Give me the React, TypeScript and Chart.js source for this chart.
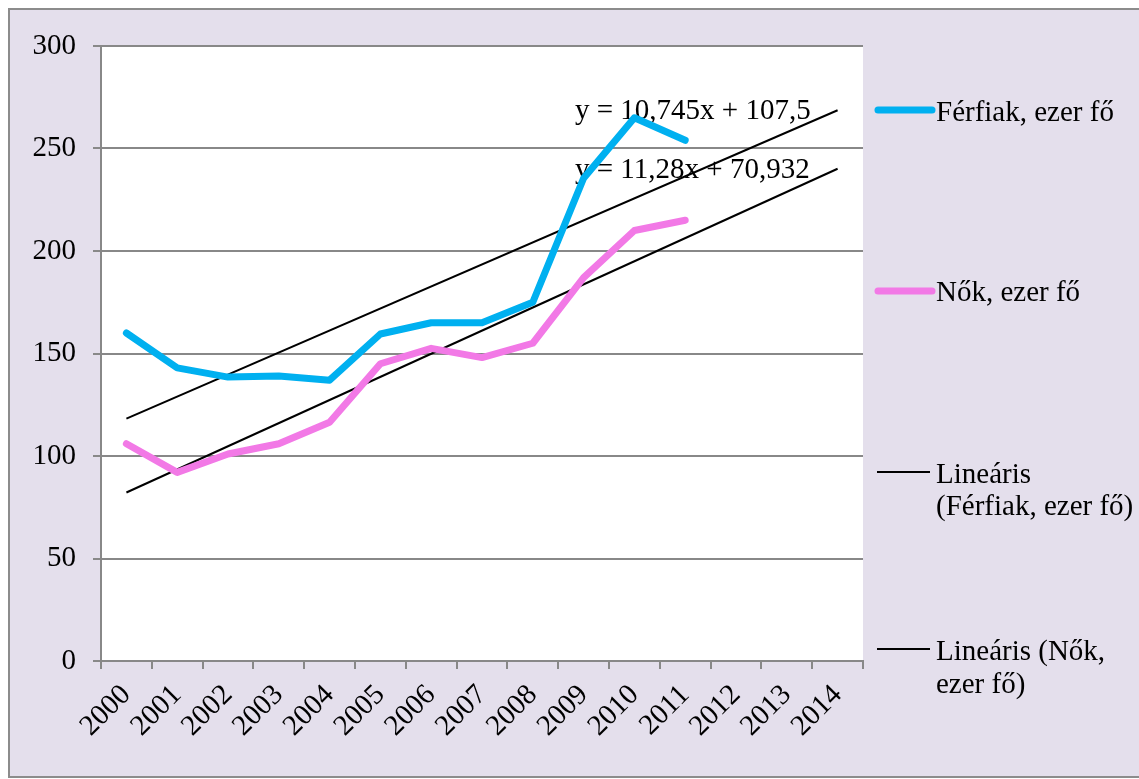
import React, { useEffect, useRef } from "react";
import { Chart, registerables } from "chart.js";

Chart.register(...registerables);

const years = ["2000", "2001", "2002", "2003", "2004", "2005", "2006", "2007", "2008", "2009", "2010", "2011", "2012", "2013", "2014"];
const men = [160, 143, 138.5, 139, 137, 159.5, 165, 165, 175, 235.5, 265, 254];
const women = [106, 92, 101, 106, 116.5, 145, 152.5, 148, 155, 187, 210, 215];
const menTrendYears = ["2000", "2014"];
const menTrendValues = [118.245, 268.675];
const womenTrendYears = ["2000", "2014"];
const womenTrendValues = [82.212, 240.132];
const menLabel = "Férfiak, ezer fő";
const womenLabel = "Nők, ezer fő";
const menTrendLabel = ["Lineáris", "(Férfiak, ezer fő)"];
const womenTrendLabel = ["Lineáris (Nők,", "ezer fő)"];
const menEquation = "y = 10,745x + 107,5";
const womenEquation = "y = 11,28x + 70,932";

const FAMILY = "'Liberation Serif', 'Times New Roman', serif";
const FONT = "29px " + FAMILY;
const BLUE = "#00B0F0";
const PINK = "#F279E6";
const GRID = "#888888";

const overlay = {
  id: "overlay",
  beforeDatasetsDraw(chart: any) {
    const ctx = chart.ctx;
    const a = chart.chartArea;
    ctx.save();
    ctx.font = FONT;
    ctx.fillStyle = "#000";
    ctx.textAlign = "left";
    ctx.textBaseline = "alphabetic";
    ctx.fillText(menEquation, a.left + 474, a.top + 73);
    ctx.fillText(womenEquation, a.left + 474, a.top + 132);
    ctx.restore();
  },
  afterDraw(chart: any) {
    const ctx = chart.ctx;
    const a = chart.chartArea;
    const lx = a.right + 12;
    const tx = a.right + 73;
    ctx.save();
    ctx.font = FONT;
    ctx.fillStyle = "#000";
    ctx.textAlign = "left";
    ctx.textBaseline = "alphabetic";
    ctx.lineCap = "round";
    ctx.lineWidth = 7;
    ctx.strokeStyle = BLUE;
    ctx.beginPath();
    ctx.moveTo(lx + 3, a.top + 64);
    ctx.lineTo(lx + 57, a.top + 64);
    ctx.stroke();
    ctx.fillText(menLabel, tx, a.top + 75);
    ctx.strokeStyle = PINK;
    ctx.beginPath();
    ctx.moveTo(lx + 3, a.top + 245);
    ctx.lineTo(lx + 57, a.top + 245);
    ctx.stroke();
    ctx.fillText(womenLabel, tx, a.top + 255);
    ctx.lineCap = "butt";
    ctx.lineWidth = 2;
    ctx.strokeStyle = "#000";
    ctx.beginPath();
    ctx.moveTo(lx + 2, a.top + 426);
    ctx.lineTo(lx + 55, a.top + 426);
    ctx.stroke();
    ctx.fillText(menTrendLabel[0], tx, a.top + 437);
    ctx.fillText(menTrendLabel[1], tx, a.top + 469);
    ctx.beginPath();
    ctx.moveTo(lx + 2, a.top + 603);
    ctx.lineTo(lx + 55, a.top + 603);
    ctx.stroke();
    ctx.fillText(womenTrendLabel[0], tx, a.top + 614);
    ctx.fillText(womenTrendLabel[1], tx, a.top + 647);
    ctx.restore();
  },
};

const plotBg = {
  id: "plotBg",
  beforeDraw(chart: any) {
    const ctx = chart.ctx;
    const a = chart.chartArea;
    ctx.save();
    ctx.fillStyle = "#FFFFFF";
    ctx.fillRect(a.left, a.top, a.right - a.left, a.bottom - a.top);
    ctx.restore();
  },
};

export default function App() {
  const ref = useRef<HTMLCanvasElement>(null);
  useEffect(() => {
    if (!ref.current) return;
    const chart = new Chart(ref.current, {
      type: "line",
      data: {
        labels: years,
        datasets: [
          {
            label: menLabel,
            data: men,
            borderColor: BLUE,
            backgroundColor: BLUE,
            borderWidth: 7,
            pointRadius: 0,
            borderCapStyle: "round",
            borderJoinStyle: "round",
            tension: 0,
          },
          {
            label: womenLabel,
            data: women,
            borderColor: PINK,
            backgroundColor: PINK,
            borderWidth: 7,
            pointRadius: 0,
            borderCapStyle: "round",
            borderJoinStyle: "round",
            tension: 0,
          },
          {
            label: menTrendLabel.join(" "),
            data: menTrendYears.map((x, i) => ({ x, y: menTrendValues[i] })),
            borderColor: "#000",
            borderWidth: 2,
            pointRadius: 0,
            tension: 0,
          },
          {
            label: womenTrendLabel.join(" "),
            data: womenTrendYears.map((x, i) => ({ x, y: womenTrendValues[i] })),
            borderColor: "#000",
            borderWidth: 2,
            pointRadius: 0,
            tension: 0,
          },
        ],
      },
      options: {
        animation: false,
        responsive: false,
        maintainAspectRatio: false,
        events: [],
        layout: { padding: { left: 0, top: 36, right: 287, bottom: 15 } },
        plugins: {
          legend: { display: false },
          tooltip: { enabled: false },
        },
        scales: {
          x: {
            type: "category",
            offset: true,
            afterFit: (s: any) => {
              s.height = 100;
            },
            grid: {
              offset: true,
              drawOnChartArea: false,
              drawTicks: true,
              tickLength: 8,
              color: GRID,
              lineWidth: 2,
            },
            border: { display: true, color: GRID, width: 2 },
            ticks: {
              autoSkip: false,
              minRotation: 45,
              maxRotation: 45,
              padding: 9,
              color: "#000",
              font: { family: FAMILY, size: 29 },
            },
          },
          y: {
            min: 0,
            max: 300,
            afterFit: (s: any) => {
              s.width = 91;
            },
            grid: {
              drawTicks: true,
              tickLength: 8,
              color: GRID,
              lineWidth: 2,
            },
            border: { display: true, color: GRID, width: 2 },
            ticks: {
              stepSize: 50,
              padding: 17,
              color: "#000",
              font: { family: FAMILY, size: 29 },
            },
          },
        },
      },
      plugins: [plotBg, overlay],
    });
    return () => chart.destroy();
  }, []);

  return (
    <div
      style={{
        position: "fixed",
        left: 8,
        top: 8,
        width: 1140,
        height: 766,
        border: "2px solid #8C8C8C",
        background: "#E4DFEC",
      }}
    >
      <canvas ref={ref} width={1140} height={766} style={{ display: "block", width: 1140, height: 766 }} />
    </div>
  );
}
